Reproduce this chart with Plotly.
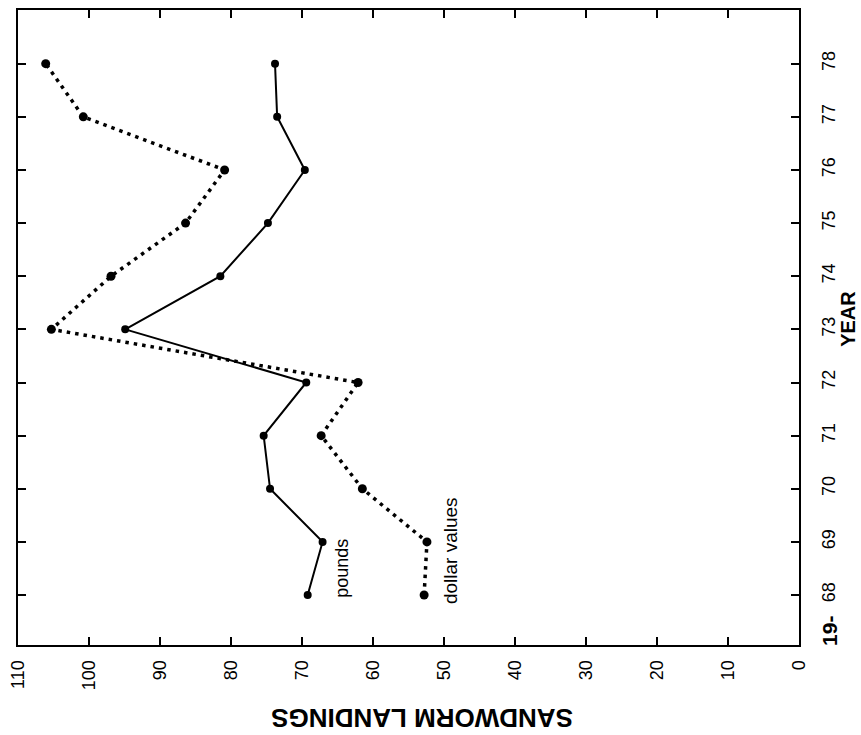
import plotly.graph_objects as go

# Sandworm landings, 1968-1978
years = [68, 69, 70, 71, 72, 73, 74, 75, 76, 77, 78]
pounds = [69.2, 67.1, 74.5, 75.4, 69.4, 94.9, 81.5, 74.8, 69.6, 73.5, 73.8]
dollar_values = [52.8, 52.4, 61.5, 67.3, 62.1, 105.3, 96.9, 86.4, 80.9, 100.8, 106.1]

value_ticks = [0, 10, 20, 30, 40, 50, 60, 70, 80, 90, 100, 110]
year_ticks = years
year_labels = [str(y) for y in years]

FONT = "Liberation Sans, Arial, Helvetica, sans-serif"

fig = go.Figure()

# Values run horizontally (0 on the right), years run vertically
fig.add_trace(go.Scatter(
    x=pounds, y=years, mode="lines+markers", name="pounds",
    line=dict(color="black", width=2),
    marker=dict(color="black", size=8),
))
fig.add_trace(go.Scatter(
    x=dollar_values, y=years, mode="lines+markers", name="dollar values",
    line=dict(color="black", width=3.5, dash="3.5px,5px"),
    marker=dict(color="black", size=9),
))

fig.update_layout(
    width=861, height=735,
    margin=dict(l=15, r=62, t=8, b=90),
    paper_bgcolor="white", plot_bgcolor="white",
    showlegend=False,
    font=dict(family=FONT, color="black"),
    xaxis=dict(
        range=[110, 0], tickvals=value_ticks, ticktext=[str(v) for v in value_ticks],
        tickangle=-90, ticks="inside", ticklen=8, tickwidth=2, tickcolor="black",
        showline=True, linecolor="black", linewidth=2, mirror="allticks",
        showgrid=False, zeroline=False, tickfont=dict(size=18, family=FONT),
        ticklabelstandoff=6,
    ),
    yaxis=dict(
        range=[67.06, 79.01], side="right", tickvals=year_ticks, ticktext=year_labels,
        tickangle=-90, ticks="inside", ticklen=8, tickwidth=2, tickcolor="black",
        showline=True, linecolor="black", linewidth=2, mirror="allticks",
        showgrid=False, zeroline=False, tickfont=dict(size=18, family=FONT),
        ticklabelstandoff=12,
    ),
)

annotations = [
    dict(text="<b>SANDWORM LANDINGS</b>", xref="paper", yref="paper",
         x=0.5166, y=-0.1146, xanchor="center", yanchor="middle",
         textangle=180, showarrow=False, font=dict(size=26, family=FONT)),
    dict(text="<b>YEAR</b>", xref="paper", yref="paper",
         x=1.0625, y=0.5133, xanchor="center", yanchor="middle",
         textangle=-90, showarrow=False, font=dict(size=20, family=FONT)),
    dict(text="<b>19-</b>", xref="paper", yref="paper",
         x=1.0383, y=0.022, xanchor="center", yanchor="middle",
         textangle=-90, showarrow=False, font=dict(size=21, family=FONT)),
    dict(text="pounds", xref="x", yref="y", x=64.4, y=68.51,
         xanchor="center", yanchor="middle",
         textangle=-90, showarrow=False, font=dict(size=18, family=FONT)),
    dict(text="dollar values", xref="x", yref="y", x=49.0, y=68.83,
         xanchor="center", yanchor="middle",
         textangle=-90, showarrow=False, font=dict(size=19, family=FONT)),
]
fig.update_layout(annotations=annotations)

fig.write_html("out.html")
